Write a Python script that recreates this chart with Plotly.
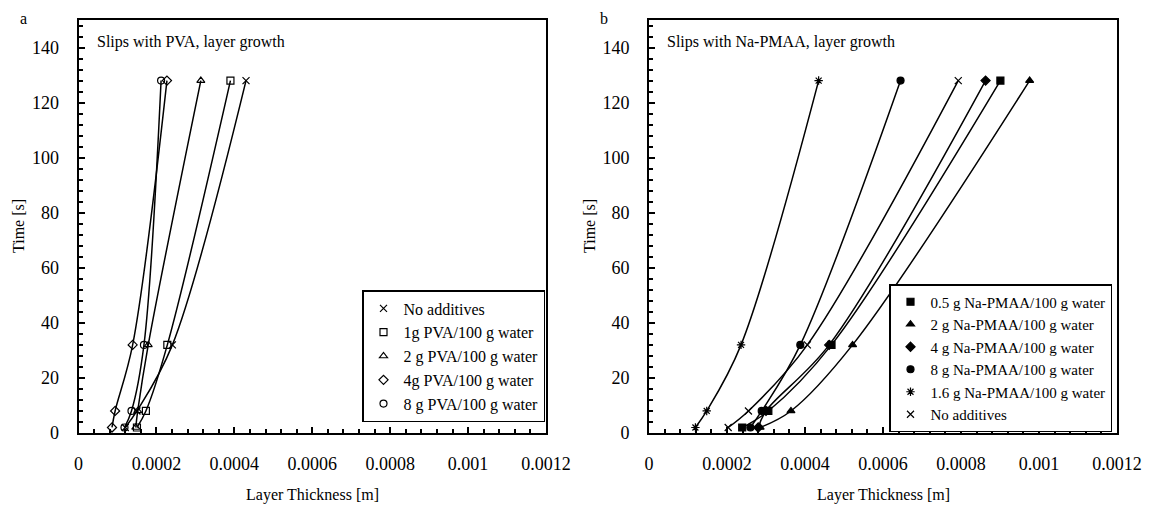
import plotly.graph_objects as go

# ---------------- data ----------------
time_s = [2, 8, 32, 128]

# Panel a: slips with PVA (layer thickness in m)
pva_none = [0.000120, 0.000150, 0.000241, 0.000430]
pva_1g = [0.000150, 0.000173, 0.000228, 0.000390]
pva_2g = [0.000147, 0.000152, 0.000179, 0.000314]
pva_4g = [0.000086, 0.000094, 0.000139, 0.000227]
pva_8g = [0.000118, 0.000136, 0.000168, 0.000212]

# Panel b: slips with Na-PMAA
pmaa_05g = [0.000239, 0.000306, 0.000468, 0.000901]
pmaa_2g = [0.000285, 0.000364, 0.000522, 0.000976]
pmaa_4g = [0.000280, 0.000300, 0.000462, 0.000863]
pmaa_8g = [0.000260, 0.000289, 0.000388, 0.000645]
pmaa_16g = [0.000119, 0.000148, 0.000236, 0.000435]
pmaa_none = [0.000203, 0.000255, 0.000406, 0.000793]

x_tickvals = [0, 0.0002, 0.0004, 0.0006, 0.0008, 0.001, 0.0012]
x_ticktext = ["0", "0.0002", "0.0004", "0.0006", "0.0008", "0.001", "0.0012"]

FONT = "Liberation Serif"
W, H = 1150, 506

fig = go.Figure()


def add(xs, name, symbol, xa, ya, legend):
    marker = dict(symbol=symbol, size=7, color="black",
                  line=dict(color="black", width=1.2))
    fig.add_trace(go.Scatter(
        x=xs, y=time_s, name=name, mode="lines+markers",
        xaxis=xa, yaxis=ya, showlegend=False,
        line=dict(shape="spline", color="black", width=1.5),
        marker=marker,
    ))
    # legend entry showing only the marker
    fig.add_trace(go.Scatter(
        x=[None], y=[None], name=name, mode="markers",
        xaxis=xa, yaxis=ya, legend=legend, showlegend=True,
        marker=marker, hoverinfo="skip",
    ))


add(pva_none, "No additives", "x-thin", "x", "y", "legend")
add(pva_1g, "1g PVA/100 g water", "square-open", "x", "y", "legend")
add(pva_2g, "2 g PVA/100 g water", "triangle-up-open", "x", "y", "legend")
add(pva_4g, "4g PVA/100 g water", "diamond-open", "x", "y", "legend")
add(pva_8g, "8 g PVA/100 g water", "circle-open", "x", "y", "legend")

add(pmaa_05g, "0.5 g Na-PMAA/100 g water", "square", "x2", "y2", "legend2")
add(pmaa_2g, "2 g Na-PMAA/100 g water", "triangle-up", "x2", "y2", "legend2")
add(pmaa_4g, "4 g Na-PMAA/100 g water", "diamond", "x2", "y2", "legend2")
add(pmaa_8g, "8 g Na-PMAA/100 g water", "circle", "x2", "y2", "legend2")
add(pmaa_16g, "1.6 g Na-PMAA/100 g water", "asterisk", "x2", "y2", "legend2")
add(pmaa_none, "No additives", "x-thin", "x2", "y2", "legend2")

ydom = [(H - 433) / H, (H - 20) / H]


def xaxis(dom, anchor):
    return dict(
        domain=dom, anchor=anchor, range=[0, 0.0012], automargin=False,
        tickmode="array", tickvals=x_tickvals, ticktext=x_ticktext,
        ticks="inside", ticklen=6, tickwidth=1.5, tickcolor="black",
        minor=dict(tickmode="linear", tick0=0, dtick=0.00004, ticks="inside",
                   ticklen=4, tickwidth=1.5, tickcolor="black"),
        showline=True, linewidth=2, linecolor="black", mirror=True,
        showgrid=False, zeroline=False,
        tickfont=dict(family=FONT, size=18, color="black"),
        ticklabelstandoff=13,
    )


def yaxis(anchor):
    return dict(
        domain=ydom, anchor=anchor, range=[0, 150], automargin=False,
        tickmode="linear", tick0=0, dtick=20,
        ticks="inside", ticklen=6, tickwidth=1.5, tickcolor="black",
        minor=dict(tickmode="linear", tick0=0, dtick=4, ticks="inside",
                   ticklen=4, tickwidth=1.5, tickcolor="black"),
        showline=True, linewidth=2, linecolor="black", mirror=True,
        showgrid=False, zeroline=False,
        tickfont=dict(family=FONT, size=18, color="black"),
        ticklabelstandoff=14,
    )


legend_common = dict(
    xanchor="left", yanchor="top",
    bgcolor="white", bordercolor="black", borderwidth=1.5,
    itemsizing="trace", tracegroupgap=0,
)

fig.update_layout(
    width=W, height=H,
    margin=dict(l=0, r=0, t=0, b=0, autoexpand=False),
    paper_bgcolor="white", plot_bgcolor="white",
    font=dict(family=FONT, size=16, color="black"),
    xaxis=xaxis([78.5 / W, 546 / W], "y"),
    yaxis=yaxis("x"),
    xaxis2=xaxis([649 / W, 1117 / W], "y2"),
    yaxis2=yaxis("x2"),
    legend=dict(x=362 / W, y=(H - 290) / H,
                font=dict(family=FONT, size=16, color="black"), **legend_common),
    legend2=dict(x=889 / W, y=(H - 284) / H,
                 font=dict(family=FONT, size=15, color="black"), **legend_common),
    showlegend=True,
)


def ann(text, x, y, xanchor="center", yanchor="middle", angle=0, size=16):
    fig.add_annotation(
        text=text, x=x / W, y=(H - y) / H, xref="paper", yref="paper",
        xanchor=xanchor, yanchor=yanchor, textangle=angle, showarrow=False,
        font=dict(family=FONT, size=size, color="black"),
    )


ann("a", 23, 18)
ann("b", 604, 18)
ann("Slips with PVA, layer growth", 95, 42, xanchor="left")
ann("Slips with Na-PMAA, layer growth", 665, 42, xanchor="left")
ann("Time [s]", 18, 226, angle=-90)
ann("Time [s]", 589, 226, angle=-90)
ann("Layer Thickness [m]", 312, 495)
ann("Layer Thickness [m]", 883, 495)

fig.write_html("out.html")
